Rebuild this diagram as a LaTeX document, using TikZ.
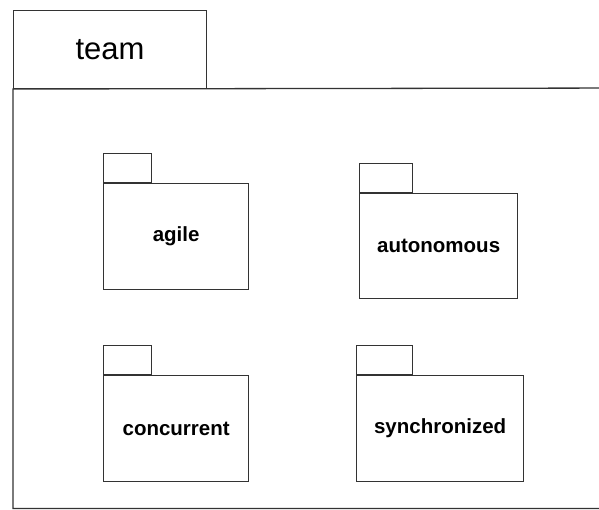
\documentclass[tikz,border=0pt]{standalone}
\usepackage{fontspec}
\setmainfont{Liberation Sans}
\begin{document}
\begin{tikzpicture}[x=1pt,y=-1pt,
  edge/.style={draw=black!80,line width=1.3pt},
  thin edge/.style={draw=black!80,line width=1pt},
  pkgbody/.style={edge,fill=white,minimum width=145pt,minimum height=106pt,inner sep=0pt,
    font=\fontsize{20.5}{24}\selectfont\bfseries,anchor=north west},
  pkgtab/.style={thin edge,fill=white,minimum width=48pt,minimum height=29pt,inner sep=0pt,anchor=south west}]
  \useasboundingbox (0,0) rectangle (599,509);
  \clip (0,0) rectangle (599,509);
  % enclosing package "team"
  \node[thin edge,minimum width=193pt,minimum height=78pt,inner sep=0pt,anchor=north west,
        font=\fontsize{31}{36}\selectfont] (team) at (13,10) {team};
  \coordinate (frameTR) at (640,88);
  \coordinate (frameBR) at (640,508.5);
  \coordinate (frameBL) at (13,508.5);
  \draw[edge] (team.south west) -- (frameTR) -- (frameBR) -- (frameBL) -- cycle;
  % nested packages
  \node[pkgbody] (agile) at (103,183) {agile};
  \node[pkgtab] (agileTab) at (agile.north west) {};
  \node[pkgbody,minimum width=158pt,minimum height=105pt] (auto) at (359,193) {autonomous};
  \node[pkgtab,minimum width=53pt] (autoTab) at (auto.north west) {};
  \node[pkgbody] (conc) at (103,375) {concurrent};
  \node[pkgtab] (concTab) at (conc.north west) {};
  \node[pkgbody,minimum width=167pt] (sync) at (356,375) {synchronized};
  \node[pkgtab,minimum width=56pt] (syncTab) at (sync.north west) {};
\end{tikzpicture}
\end{document}
